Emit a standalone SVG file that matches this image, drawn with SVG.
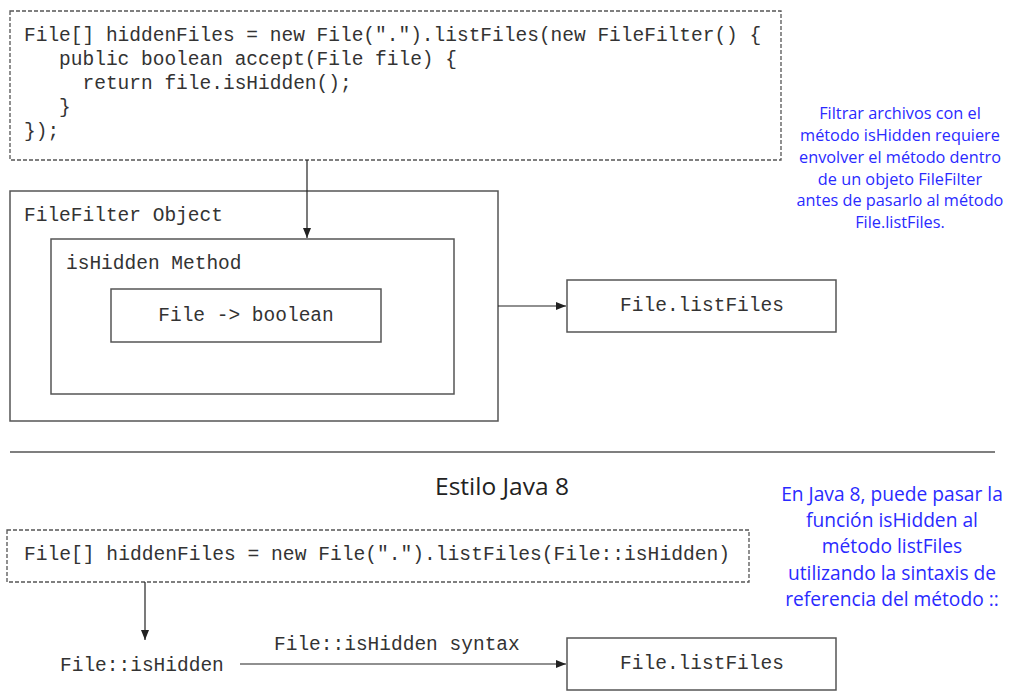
<svg xmlns="http://www.w3.org/2000/svg" width="1010" height="691" viewBox="0 0 1010 691">
<style>
.box{fill:none;stroke:#555;stroke-width:1.5}
.dash{fill:none;stroke:#555;stroke-width:1.3;stroke-dasharray:4 2}
.code{font-family:"Liberation Mono",monospace;font-size:19.5px;fill:#333}
.mid{text-anchor:middle;dominant-baseline:central}
.note{font-family:"Open Sans",sans-serif;fill:#2a2aff;text-anchor:middle}
.line{fill:none;stroke:#222;stroke-width:1.2}
</style>
<defs>
<marker id="ah" markerWidth="10" markerHeight="8" refX="10" refY="4" orient="auto" markerUnits="userSpaceOnUse">
<path d="M0,0 L10,4 L0,8 z" fill="#222"/>
</marker>
</defs>
<rect width="1010" height="691" fill="#fff"/>

<g id="code-old">
<rect class="dash" x="10" y="11" width="771" height="149"/>
<text class="code" x="24" y="41" xml:space="preserve">File[] hiddenFiles = new File(".").listFiles(new FileFilter() {</text>
<text class="code" x="24" y="65" xml:space="preserve">   public boolean accept(File file) {</text>
<text class="code" x="24" y="89" xml:space="preserve">     return file.isHidden();</text>
<text class="code" x="24" y="113" xml:space="preserve">   }</text>
<text class="code" x="24" y="137" xml:space="preserve">});</text>
</g>

<g id="filefilter-object">
<rect class="box" x="10" y="191" width="488" height="230"/>
<text class="code" x="24" y="221">FileFilter Object</text>
</g>
<g id="ishidden-method">
<rect class="box" x="51" y="239" width="403" height="155"/>
<text class="code" x="66" y="269">isHidden Method</text>
</g>
<g id="file-boolean">
<rect class="box" x="111" y="289" width="270" height="53"/>
<text class="code mid" x="246" y="316">File -&gt; boolean</text>
</g>
<g id="listfiles-top">
<rect class="box" x="567" y="280" width="269" height="52"/>
<text class="code mid" x="702" y="306">File.listFiles</text>
</g>

<g id="note-top" class="note" font-size="16.3">
<text x="900" y="119">Filtrar archivos con el</text>
<text x="900" y="141">método isHidden requiere</text>
<text x="900" y="163">envolver el método dentro</text>
<text x="900" y="185">de un objeto FileFilter</text>
<text x="900" y="206">antes de pasarlo al método</text>
<text x="900" y="228">File.listFiles.</text>
</g>

<g id="divider">
<line x1="10" y1="452" x2="995" y2="452" stroke="#555" stroke-width="1.5"/>
</g>
<g id="title">
<text x="502" y="485" font-family="Open Sans,sans-serif" font-size="24.5" fill="#222" text-anchor="middle" dominant-baseline="central">Estilo Java 8</text>
</g>

<g id="code-new">
<rect class="dash" x="7" y="530" width="742" height="52"/>
<text class="code" x="24" y="560" textLength="706" lengthAdjust="spacingAndGlyphs">File[] hiddenFiles = new File(".").listFiles(File::isHidden)</text>
</g>
<g id="ref-ishidden">
<text class="code" x="60" y="671">File::isHidden</text>
</g>
<g id="listfiles-bottom">
<rect class="box" x="567" y="638" width="269" height="52"/>
<text class="code mid" x="702" y="664">File.listFiles</text>
</g>

<g id="note-bottom" class="note" font-size="19.2">
<text x="892" y="501">En Java 8, puede pasar la</text>
<text x="892" y="527">función isHidden al</text>
<text x="892" y="553">método listFiles</text>
<text x="892" y="580">utilizando la sintaxis de</text>
<text x="892" y="606">referencia del método ::</text>
</g>

<g id="connectors">
<line class="line" x1="307" y1="160" x2="307" y2="238" marker-end="url(#ah)"/>
<line class="line" x1="498" y1="306" x2="566" y2="306" marker-end="url(#ah)"/>
<line class="line" x1="145" y1="582" x2="145" y2="640" marker-end="url(#ah)"/>
<line class="line" x1="240" y1="664" x2="566" y2="664" marker-end="url(#ah)"/>
<text class="code" x="274" y="650">File::isHidden syntax</text>
</g>
</svg>
